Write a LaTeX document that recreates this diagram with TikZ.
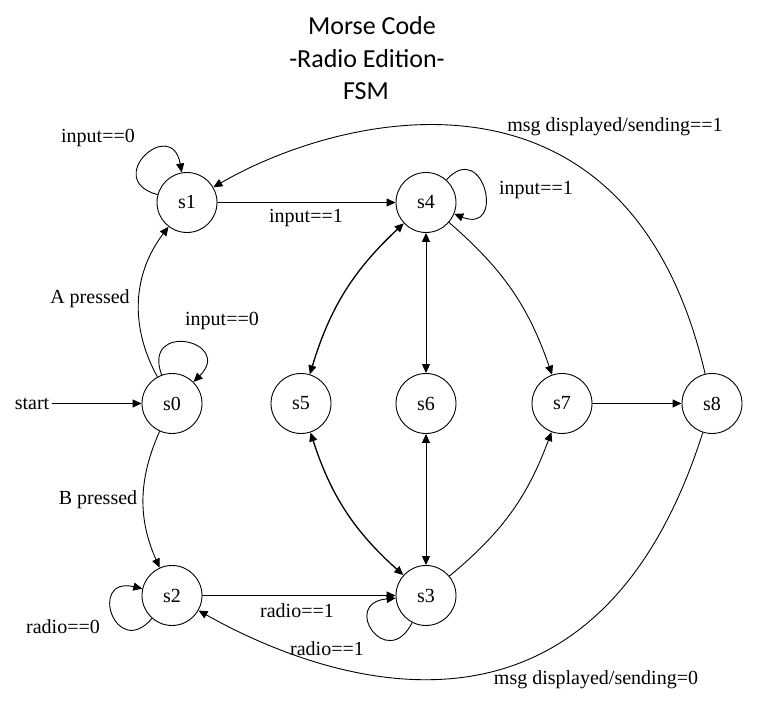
\documentclass[tikz,border=0pt]{standalone}
\usepackage{fontspec}
\setmainfont{Liberation Serif}
\newfontfamily\titlefont{Carlito}
\usetikzlibrary{arrows.meta}
\begin{document}
\begin{tikzpicture}[x=1pt,y=1pt,
  state/.style={circle,draw,line width=0.9pt,minimum size=60pt,inner sep=0pt,font=\fontsize{20}{24}\selectfont},
  lbl/.style={font=\fontsize{20}{24}\selectfont,inner sep=1pt},
  ttl/.style={font=\titlefont\fontsize{26}{32}\selectfont,anchor=base,inner sep=0pt},
  conn/.style={line width=0.9pt,-{Triangle[length=9pt,width=8pt]}},
  bicon/.style={line width=0.9pt,{Triangle[length=9pt,width=8pt]}-{Triangle[length=9pt,width=8pt]}},
]
\useasboundingbox (0,0) rectangle (784,722);
% title
\node[ttl] (t1) at (372,687) {Morse Code};
\node[ttl] (t2) at (367,654.5) {-Radio Edition-};
\node[ttl] (t3) at (366,622) {FSM};
% states
\node[state] (s0) at (172,318.5) {s0};
\node[state] (s1) at (187,519.5) {s1};
\node[state] (s2) at (172,126.5) {s2};
\node[state] (s3) at (426,126.5) {s3};
\node[state] (s4) at (426,519.5) {s4};
\node[state] (s5) at (301,318.5) {s5};
\node[state] (s6) at (426,318.5) {s6};
\node[state] (s7) at (562,318.5) {s7};
\node[state] (s8) at (712,318.5) {s8};
% labels
\node[lbl,inner sep=3pt] (start) at (32,318.5) {start};
\node[lbl] (l1) at (98,584) {input==0};
\node[lbl] (l2) at (306,504) {input==1};
\node[lbl] (l3) at (536,532) {input==1};
\node[lbl] (l4) at (90,423) {A pressed};
\node[lbl] (l5) at (222,401) {input==0};
\node[lbl] (l6) at (98,222) {B pressed};
\node[lbl] (l7) at (63,95) {radio==0};
\node[lbl] (l8) at (297,111) {radio==1};
\node[lbl] (l9) at (327,73) {radio==1};
\node[lbl] (l10) at (596,42) {msg displayed/sending=0};
\node[lbl] (l11) at (615,595) {msg displayed/sending==1};
% control points
\coordinate (c1) at (629,676);
\coordinate (c2) at (345,611);
\coordinate (c3) at (587,-75);
\coordinate (c4) at (295,57);
% edges
\draw[conn] (start) -- (s0);
\draw[conn] (s0) to[bend left=33] (s1);
\draw[conn] (s0) to[bend right=24] (s2);
\draw[conn] (s1) -- (s4);
\draw[conn] (s2) -- (s3);
\draw[conn] (s7) -- (s8);
\draw[bicon] (s4) -- (s6);
\draw[bicon] (s6) -- (s3);
\draw[bicon,line width=1.3pt] (s4) to[bend right=15] (s5);
\draw[bicon,line width=1.3pt] (s5) to[bend right=15] (s3);
\draw[conn] (s4) to[bend left=15] (s7);
\draw[conn] (s3) to[bend right=15] (s7);
\draw[conn] (s8) .. controls (c1) and (c2) .. (s1);
\draw[conn] (s8) .. controls (c3) and (c4) .. (s2);
% loops
\draw[conn] (s1) to[out=165,in=100,distance=58pt] (s1);
\draw[conn] (s0) to[out=110,in=45,distance=58pt] (s0);
\draw[conn] (s4) to[out=48,in=-22,distance=56pt] (s4);
\draw[conn] (s3) to[out=243,in=185,distance=56pt] (s3);
\draw[conn] (s2) to[out=229,in=167,distance=56pt] (s2);
\end{tikzpicture}
\end{document}
